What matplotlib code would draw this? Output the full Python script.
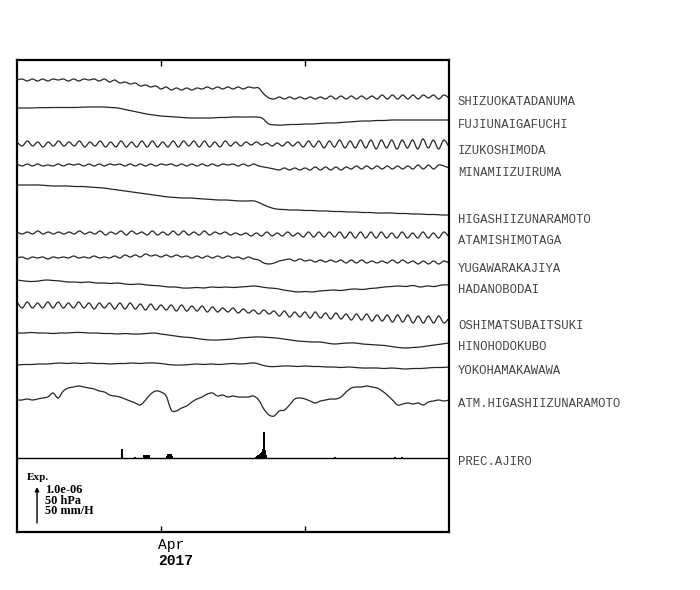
import matplotlib
matplotlib.use('Agg')
import matplotlib.pyplot as plt
import numpy as np
from matplotlib.path import Path
from matplotlib.patches import PathPatch

# time axis: days from 2017-03-22 00:00 (Apr 1 = day 10)
DAYS = 30
tick_days = [10, 20]

# scale: SCALE units on the plot = 1.0e-06 strain = 50 hPa = 50 mm/H
SCALE = 36.0

stations = ['SHIZUOKATADANUMA', 'FUJIUNAIGAFUCHI', 'IZUKOSHIMODA', 'MINAMIIZUIRUMA',
            'HIGASHIIZUNARAMOTO', 'ATAMISHIMOTAGA', 'YUGAWARAKAJIYA', 'HADANOBODAI',
            'OSHIMATSUBAITSUKI', 'HINOHODOKUBO', 'YOKOHAMAKAWAWA', 'ATM.HIGASHIIZUNARAMOTO']

# each trace: deviation from its own start level (plot units, up = extension / high pressure)
shizuoka = [0, 1, -1, 1, -1, 1, -1, 1, 0, 1, -1, 1, -1, 1, 0, 1, -1,
            1, -2, 0, -3, -2, -4, -3, -6, -5, -7, -6, -9, -7, -10,
            -8, -10, -8, -10, -8, -9, -7, -9, -7, -9, -7, -9, -7, -9, -7, -8,
            -8, -14, -18,
            -19, -17, -19, -17, -19, -17, -19, -17, -19, -17, -19, -16, -19, -16, -19, -16, -19, -16,
            -19, -16, -19, -15, -19, -15, -19, -15, -19, -15, -19, -15, -18, -15, -19, -15, -18]
fujiunai = [0, 0, 0, 0.3, 0.3, 0.5, 0.5, 0.5, 0.5, 0.8, 1, 1, 1, 0.5, 0, -1.5, -3, -4.5, -6, -7,
            -8, -8.5, -9, -9.5, -10, -10, -10, -10, -9.5, -9.5, -9, -9, -9, -9, -10, -16, -17, -17,
            -16.5, -16.5, -16, -16, -15.5, -15, -15, -14.5, -14, -13.5, -13, -13, -12.5, -12.5,
            -12, -12, -12, -12, -12, -12, -12, -12, -12]
izukoshimoda = [2, -2, 3, -2, 2, -3, 2, -2, 3, -2, 2, -2, 3, -3, 2, -2, 3, -3, 2, -3, 3, -3, 2,
                -3, 3, -3, 3, -3, 2, -3, 3, -3, 3, -2, 3, -3, 3, -3, 2, -3, 3, -2, 2, -2, 2,
                -1, 2, -1, 1, -2, 1, -2, 2, -2, 2,
                -3, 3, -3, 3, -4, 3, -3, 4, -4, 3, -4, 4, -4, 4, -5, 4, -4, 4, -5, 4, -4, 4, -5,
                5, -4, 4, -5, 4, -3]
minamiizu = [1, -1, 1, -1, 1, -1, 0, -1, 1, -1, 1, 0, 1, -1, 1, -1, 1, -1, 1, 0, 1, -1, 1, -1,
             1, -1, 1, -1, 1, 0, 1, -1, 1, -1, 1, -1, 1, -1, 1, -1, 1, 0, 1, -1, 1, -1, 1, -1,
             -2, -3, -4, -5, -3, -5, -3, -5, -3,
             -5, -2, -5, -2, -5, -2, -5, -2, -4, -1, -4, -1, -4, -1, -4, -1, -4, -1, -4, -1,
             -4, 0, -4, 0, -4, 0, -1, -3]
higashiizu = [0, 0, 0, 0, -0.5, -1, -1, -1, -1.5, -1.5, -2, -2.5, -3, -4, -5, -6, -7, -8, -9,
              -10, -11, -12, -12.5, -13, -13, -13.5, -14, -14.5, -15, -15, -15.5, -16, -16, -16,
              -19, -22, -24, -24.5, -25, -25, -25.5, -25.5, -26, -26, -26.5, -26.5, -27, -27,
              -27.5, -27.5, -28, -28, -28, -28.5, -28.5, -29, -29, -29.5, -29.5, -30, -30]
atami = [1, -1, 1, -1, 2, -1, 1, -1, 1, -1, 1, -1, 2, -1, 1, -1, 2, -2, 1, -1, 2, -2, 2, -1,
         1, -2, 2, -2, 1, -2, 2, -2, 2, -2, 1, -2, 2, -2, 1, -1, 1,
         -2, 0, -2, 0, -3, 0, -3, 1, -3, 0, -3, 1, -3, 0, -4, 1, -4, 1, -4, 1, -4, 1, -5, 1,
         -5, 1, -5, 1, -5, 1, -5, 0, -5, 1, -5, 0, -5, 1, -5, 0, -5, 1, -4]
yugawara = [0, 1, -1, 1, 0, 1, -1, 1, 0, 1, 0, 2, 0, 1, 0, 2, 0, 1, 0, 2, 0,
            3, 1, 3, 1, 4, 2, 3, 1, 3, 1, 3, 1, 2, 0, 2, 0, 2, 0, 2, 0, 2, 0, 1, -1, 1, -1,
            -2, -5, -6, -5, -3, -2,
            -1, -3, -1, -3, -2, -4, -2, -4, -2, -4, -2, -5, -2, -5, -2, -5, -3, -5, -3, -5,
            -2, -5, -2, -5, -3, -6, -3, -6, -3, -6, -3, -5]
hadano = [0, -1, -1.5, -1, 0, -0.5, -1, -2, -2, -2.5, -2, -3, -3, -3.5, -3, -4, -4.5, -4, -5,
          -5.5, -6, -7, -7, -8, -8, -7.5, -8, -7, -7.5, -7, -7.5, -7, -6.5, -6, -7, -8, -8.5,
          -10, -11, -12, -11.5, -12, -11, -10.5, -10, -10.5, -9.5, -9, -9.5, -8.5, -8, -7,
          -6.5, -6, -6.5, -5.5, -7, -6, -6.5, -5, -5]
oshima = [3, -3, 3, -3, 2, -3, 3, -3, 3, -3, 2, -3, 3, -3, 2, -4, 2, -3, 2, -4, 2, -4, 2, -4, 1, -5,
          1, -5, 0, -5, 0, -6, 0, -6, -1, -6, -1, -7, -2, -7, -3, -7, -3, -8, -4, -8, -5, -9,
          -5, -9, -6,
          -11, -6, -12, -7, -12, -7, -13, -7, -13, -8, -14, -8, -14, -9, -15, -9, -15, -9, -16,
          -10, -16, -10, -17, -10, -17, -10, -18, -11, -18, -11, -18, -11, -18, -13]
hinohodokubo = [0, 0, 0.5, 0, 0, -0.5, 0, 0, 0.5, 0.5, 0, 0, -0.5, -0.5, -1, -0.5, -1, -1, -0.5,
                0, -1, -2, -3, -4, -4.5, -5.5, -6.5, -7, -7, -6.5, -6, -5, -4.5, -4, -4, -4.5,
                -5, -6, -7, -8, -8.5, -9, -9, -10, -11, -10.5, -10, -10, -11, -11.5, -12,
                -12.5, -13.5, -14.5, -15, -14.5, -14, -13, -12, -11, -10]
yokohama = [0, 0.5, 0.5, 1, 1, 1.5, 2, 1.5, 2, 1.5, 2, 1.5, 1.5, 1, 1.5, 1.5, 2, 1.5, 2, 2, 1.5,
            0.5, 0, 0, 0.5, 1, 0.5, 1, 0.5, 1, 1.5, 1, 1.5, 2, 0, -1.5, -1.5, -1, -1, -1.5, -1,
            -1.5, -1.5, -2, -2, -2.5, -2, -2.5, -3, -3, -3, -3.5, -3, -3.5, -4, -3.5, -3.5, -3,
            -2.5, -2.5, -2]
atm_pressure = [0, 0, 1, 0, 1, 2, 3, 7, 2, 9, 12, 13, 14, 13, 12, 11, 9, 8, 5, 4, 3, 1, -1, -3,
                -5, 0, 6, 9, 8, 4, -10, -11, -8, -6, -2, 1, 3, 6, 7, 4, 5, 3, 4, 3, 3, 3, 4, 0,
                -9, -15, -16, -11, -10, -5, 1, 2, 1, -1, -3, -1, 0, 1, 1, 3, 8, 12, 13, 13, 14,
                13, 12, 9, 5, 0, -5, -4, -3, -4, -3, -5, -2, -1, 0, -1, 0]
traces = [shizuoka, fujiunai, izukoshimoda, minamiizu, higashiizu, atami, yugawara,
          hadano, oshima, hinohodokubo, yokohama, atm_pressure]

# precipitation at Ajiro (day, mm/H)
prec_days = [7.29, 8.2, 8.8, 8.9, 9.0, 9.1, 9.2, 10.45, 10.52, 10.6, 10.68, 10.75,
             16.6, 16.68, 16.76, 16.85, 16.93, 17.0, 17.08, 17.15, 17.22, 17.3,
             22.08, 26.25, 26.74]
prec_vals = [12.5, 1, 4, 4, 4, 4, 4, 3, 5, 6, 5, 3,
             1.4, 2.8, 4, 5.5, 7, 8, 12.5, 36, 11, 4,
             1, 1, 1]

# vertical stacking (layout)
offsets = [452, 424, 388, 367, 347, 299, 274, 252, 227, 199, 167, 132]
prec_base = 74
label_y = [430, 407, 381, 359, 312, 291, 263, 242, 206, 185, 161, 128, 70]


def smooth_path(x, y):
    # Catmull-Rom through the samples, drawn as cubic Bezier pieces
    verts = [(x[0], y[0])]
    codes = [Path.MOVETO]
    n = len(x)
    for i in range(n - 1):
        p0 = np.array([x[max(i - 1, 0)], y[max(i - 1, 0)]])
        p1 = np.array([x[i], y[i]])
        p2 = np.array([x[i + 1], y[i + 1]])
        p3 = np.array([x[min(i + 2, n - 1)], y[min(i + 2, n - 1)]])
        c1 = p1 + (p2 - p0) / 6.0
        c2 = p2 - (p3 - p1) / 6.0
        verts += [tuple(c1), tuple(c2), tuple(p2)]
        codes += [Path.CURVE4] * 3
    return Path(verts, codes)


fig = plt.figure(figsize=(7, 5.9), dpi=100)
ax = fig.add_axes([17 / 700, 58 / 590, 432 / 700, 472 / 590])

mono = 'Liberation Mono'
for vals, off in zip(traces, offsets):
    v = np.array(vals, dtype=float)
    t = np.linspace(0, DAYS, len(v))
    ax.add_patch(PathPatch(smooth_path(t, off + v), facecolor='none',
                           edgecolor='#262626', lw=0.9))

for name, ly in zip(stations + ['PREC.AJIRO'], label_y):
    ax.annotate(name, xy=(1, ly), xycoords=('axes fraction', 'data'),
                xytext=(9, 0), textcoords='offset pixels', va='center', ha='left',
                fontsize=8.8, family=mono, color='#444444', annotation_clip=False)

# precipitation
ax.plot([0, DAYS], [prec_base, prec_base], color='black', lw=1.0)
ax.vlines(prec_days, prec_base, prec_base + np.array(prec_vals) * SCALE / 50.0,
          color='black', lw=1.4)

# scale arrow
ax.annotate('', xy=(1.39, 9 + SCALE), xytext=(1.39, 9),
            arrowprops=dict(arrowstyle='-|>', color='black', lw=1.0,
                            mutation_scale=6, shrinkA=0, shrinkB=0))
ax.text(0.7, 54, 'Exp.', fontsize=8, family='Liberation Serif', weight='bold',
        va='center', ha='left')
ax.text(1.95, 48, '1.0e-06\n50 hPa\n50 mm/H', fontsize=8.8, family='Liberation Serif',
        weight='bold', va='top', ha='left', linespacing=0.85)

ax.set_xlim(0, DAYS)
ax.set_ylim(0, 472)
ax.set_yticks([])
ax.set_xticks(tick_days)
ax.set_xticklabels(['', ''])
ax.tick_params(axis='x', direction='in', top=True, length=4, width=1)
for s in ax.spines.values():
    s.set_linewidth(1.6)

ax.text(9.8, -13, 'Apr', fontsize=10.5, family=mono, ha='left', va='center')
ax.text(9.8, -29, '2017', fontsize=10.5, family=mono, weight='bold', ha='left', va='center')

fig.savefig('out.png', dpi=100)
